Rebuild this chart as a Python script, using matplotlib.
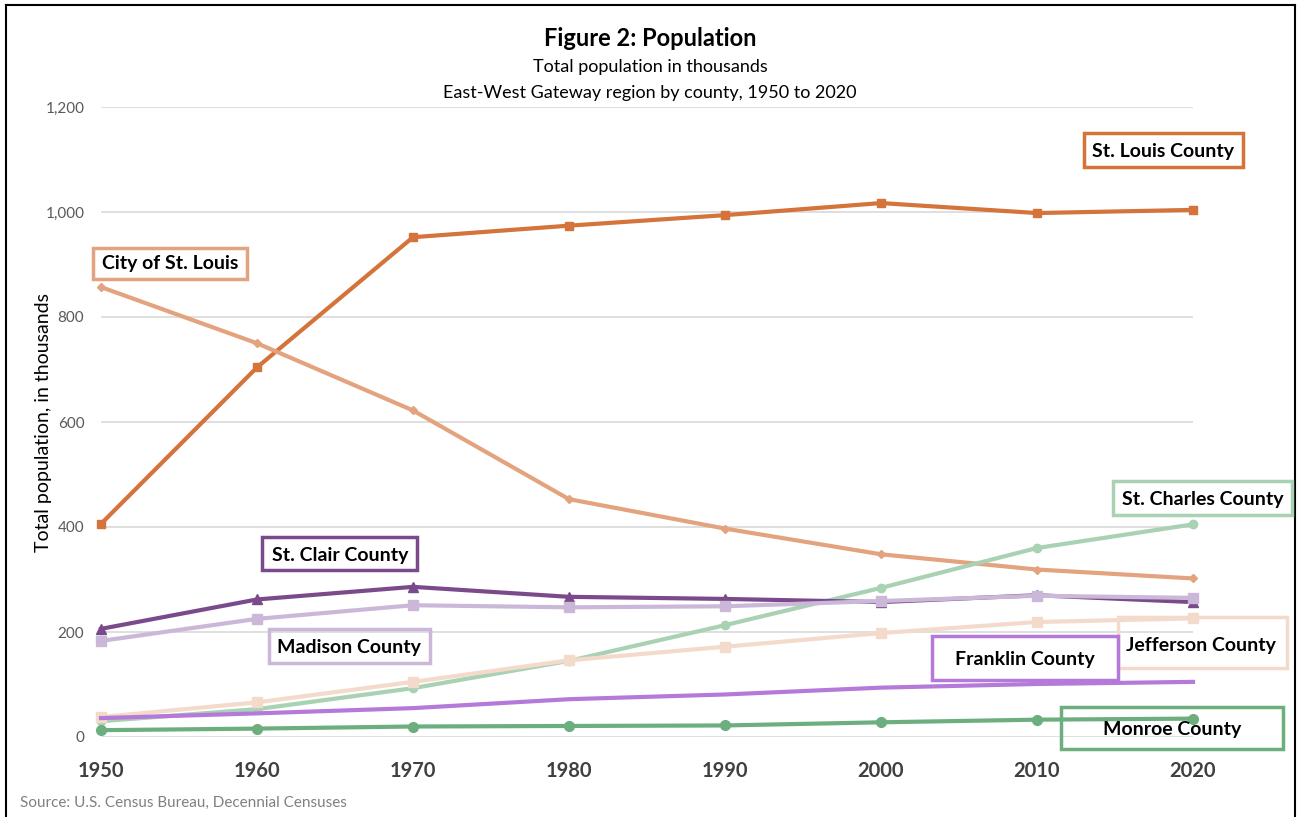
import matplotlib
matplotlib.use("Agg")
import matplotlib.pyplot as plt
from matplotlib.patches import Rectangle
from matplotlib.lines import Line2D

plt.rcParams['font.family'] = ['Lato', 'DejaVu Sans']

years = [1950, 1960, 1970, 1980, 1990, 2000, 2010, 2020]
st_louis_county = [406, 704, 952, 974, 994, 1017, 998, 1004]
city_st_louis = [857, 750, 622, 453, 397, 348, 319, 302]
st_charles = [30, 53, 93, 145, 213, 284, 360, 405]
st_clair = [206, 262, 286, 267, 263, 257, 270, 257]
madison = [183, 225, 251, 247, 249, 259, 269, 265]
jefferson = [38, 66, 105, 146, 172, 198, 219, 226]
franklin = [36, 45, 55, 72, 81, 94, 101, 105]
monroe = [13, 16, 20, 21, 22, 28, 33, 35]

W, H = 1297, 817
fig = plt.figure(figsize=(W / 100, H / 100), dpi=100)

def fx(px):
    return px / W

def fy(py):
    return 1 - py / H

ax = fig.add_axes([fx(101), fy(737), fx(1193) - fx(101), fy(107) - fy(737)])

series = [
    (st_louis_county, '#D4733A', 's', 6),
    (city_st_louis, '#E3A37E', 'D', 4.5),
    (st_charles, '#A9D1B3', 'o', 6),
    (st_clair, '#7A4A8A', '^', 7),
    (madison, '#CBB8D8', 's', 7),
    (jefferson, '#F4DACB', 's', 7),
    (franklin, '#B57AD9', None, 0),
    (monroe, '#6DAE7F', 'o', 7),
]
order = [6, 5, 2, 7, 4, 3, 1, 0]
for i in order:
    vals, col, mk, ms = series[i]
    ax.plot(years, vals, color=col, lw=3, marker=mk, markersize=ms,
            clip_on=False, zorder=3 + i * 0.1)

ax.set_xlim(1950, 2020)
ax.set_ylim(0, 1200)
ax.set_yticks(range(0, 1201, 200))
ax.set_yticklabels([f"{v:,}" for v in range(0, 1201, 200)])
ax.set_xticks(years)
ax.set_xticklabels([str(y) for y in years])
ax.grid(axis='y', color='#D9D9D9', lw=1.2)
ax.set_axisbelow(True)
for s in ax.spines.values():
    s.set_visible(False)
ax.tick_params(axis='both', length=0)
ax.tick_params(axis='y', labelsize=11, labelcolor='#595959', pad=12)
ax.tick_params(axis='x', labelsize=14.5, labelcolor='#404040', pad=17)
for lbl in ax.get_xticklabels():
    lbl.set_fontweight('bold')

fig.text(fx(44), fy(422), 'Total population, in thousands', rotation=90,
         ha='center', va='center', fontsize=14, color='#000000')

fig.text(fx(650), fy(38), 'Figure 2: Population', ha='center', va='center',
         fontsize=17, fontweight='bold', color='#000000')
fig.text(fx(650), fy(67), 'Total population in thousands', ha='center', va='center',
         fontsize=13, color='#000000')
fig.text(fx(650), fy(93), 'East-West Gateway region by county, 1950 to 2020',
         ha='center', va='center', fontsize=13, color='#000000')
fig.text(fx(20), fy(803), 'Source: U.S. Census Bureau, Decennial Censuses',
         ha='left', va='center', fontsize=11, color='#808080')

# labels: (text, x0, y0, x1, y1, color)
labels = [
    ('St. Louis County', 1084, 133, 1243, 167, '#D4733A'),
    ('City of St. Louis', 93, 248, 247, 279, '#E3A37E'),
    ('St. Clair County', 262, 537, 417, 570, '#7A4A8A'),
    ('Madison County', 269, 629, 430, 663, '#CBB8D8'),
    ('St. Charles County', 1113, 481, 1292, 515, '#A9D1B3'),
    ('Jefferson County', 1118, 617, 1287, 668, '#F4DACB'),
    ('Franklin County', 932, 636, 1118, 680, '#B57AD9'),
    ('Monroe County', 1061, 707, 1283, 749, '#6DAE7F'),
]
text_pos = {
    'St. Louis County': (1163, 152),
    'City of St. Louis': (170, 264),
    'St. Clair County': (340, 555),
    'Madison County': (349, 647),
    'St. Charles County': (1203, 499),
    'Jefferson County': (1201, 645),
    'Franklin County': (1025, 660),
    'Monroe County': (1172, 729),
}
for txt, x0, y0, x1, y1, col in labels:
    r = Rectangle((fx(x0), fy(y1)), fx(x1) - fx(x0), fy(y0) - fy(y1),
                  transform=fig.transFigure, facecolor='none', edgecolor=col,
                  lw=2.5, zorder=10)
    fig.patches.append(r)
    tx, ty = text_pos[txt]
    fig.text(fx(tx), fy(ty), txt, ha='center', va='center',
             fontsize=14, fontweight='bold', color='#000000', zorder=11)

# figure border
for (xa, ya, xb, yb) in [(6, 5, 1295, 5), (6, 5, 6, 817), (1295, 5, 1295, 817)]:
    fig.lines.append(Line2D([fx(xa), fx(xb)], [fy(ya), fy(yb)],
                            transform=fig.transFigure, color='#000000', lw=1.5))

fig.savefig('out.png', dpi=100)
